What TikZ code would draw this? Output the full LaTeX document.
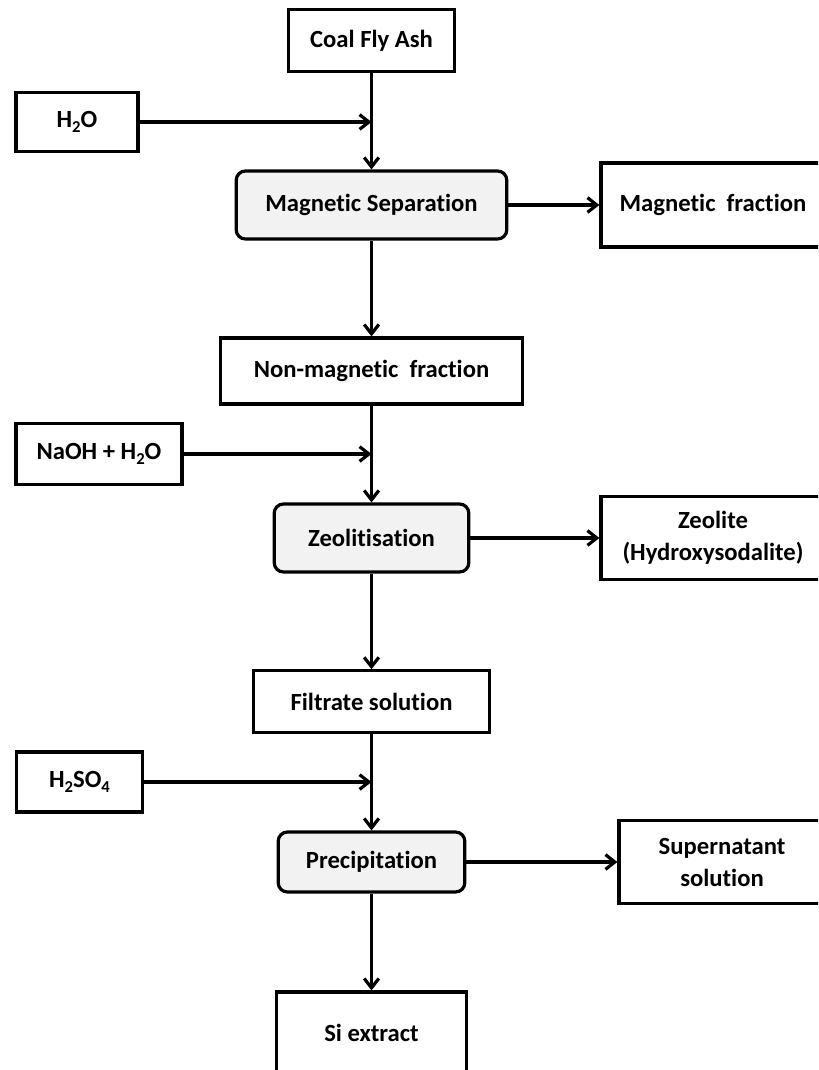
\documentclass[tikz,border=0pt]{standalone}
\usepackage{fontspec}
\setmainfont{Carlito}[Ligatures=NoCommon]
\usetikzlibrary{arrows.meta}
\definecolor{procgray}{RGB}{242,242,242}
\newcommand{\chemsub}[1]{\raisebox{-0.45ex}{\fontsize{12.5}{12.5}\selectfont #1}}

\begin{document}
\begin{tikzpicture}[x=0.75pt,y=-0.75pt,
  font=\fontsize{18.5}{24}\selectfont\bfseries,
  box/.style={draw, line width=2.4pt, inner sep=0pt, align=center},
  procbox/.style={box, rounded corners=7pt, fill=procgray},
  flow/.style={line width=2.4pt, -{Straight Barb[length=7pt,width=11pt]}}]

% -------------------------------------------------
% Frame (right and bottom boxes run off the page)
% -------------------------------------------------
\useasboundingbox (0,0) rectangle (818,1070);
\clip (0,0) rectangle (818,1070);

% -------------------------------------------------
% Main column
% -------------------------------------------------
\node[box, minimum width=125pt, minimum height=46pt] (coal) at (371.5,40.5) {Coal Fly Ash};
\node[procbox, minimum width=203pt, minimum height=51pt] (magsep) at (371.5,205) {Magnetic Separation};
\node[box, minimum width=226pt, minimum height=49.5pt] (nonmag) at (371.5,371) {Non-magnetic\ \ fraction};
\node[procbox, minimum width=146pt, minimum height=51pt] (zeol) at (371.5,538) {Zeolitisation};
\node[box, minimum width=177pt, minimum height=46pt] (filtrate) at (371.5,701.5) {Filtrate solution};
\node[procbox, minimum width=140pt, minimum height=45pt] (precip) at (371.5,862) {Precipitation};
\node[box, minimum width=143pt, minimum height=61.5pt] (siext) at (371.5,1033) {Si extract};

% -------------------------------------------------
% Reagents (left)
% -------------------------------------------------
\node[box, minimum width=91.5pt, minimum height=44pt] (water) at (77,122) {H\chemsub{2}O};
\node[box, minimum width=124.5pt, minimum height=46pt] (naoh) at (99,454) {NaOH + H\chemsub{2}O};
\node[box, minimum width=95pt, minimum height=45pt] (acid) at (79.5,782) {H\chemsub{2}SO\chemsub{4}};

% -------------------------------------------------
% Products (right)
% -------------------------------------------------
\node[box, minimum width=168pt, minimum height=63pt] (magfrac) at (713,205) {Magnetic\ \ fraction};
\node[box, minimum width=168pt, minimum height=62pt] (zeolite) at (713,538) {Zeolite\\(Hydroxysodalite)};
\node[box, minimum width=154.5pt, minimum height=62pt] (super) at (722,862) {Supernatant\\solution};

% -------------------------------------------------
% Junctions on the main line
% -------------------------------------------------
\coordinate (j1) at (coal.south |- water.east);
\coordinate (j2) at (nonmag.south |- naoh.east);
\coordinate (j3) at (filtrate.south |- acid.east);

% -------------------------------------------------
% Connectors
% -------------------------------------------------
\draw[flow] (coal.south) -- (magsep.north);
\draw[flow] (water.east) -- (j1);
\draw[flow] (magsep.east) -- (magfrac.west);
\draw[flow] (magsep.south) -- (nonmag.north);
\draw[flow] (nonmag.south) -- (zeol.north);
\draw[flow] (naoh.east) -- (j2);
\draw[flow] (zeol.east) -- (zeolite.west);
\draw[flow] (zeol.south) -- (filtrate.north);
\draw[flow] (filtrate.south) -- (precip.north);
\draw[flow] (acid.east) -- (j3);
\draw[flow] (precip.east) -- (super.west);
\draw[flow] (precip.south) -- (siext.north);

\end{tikzpicture}
\end{document}
